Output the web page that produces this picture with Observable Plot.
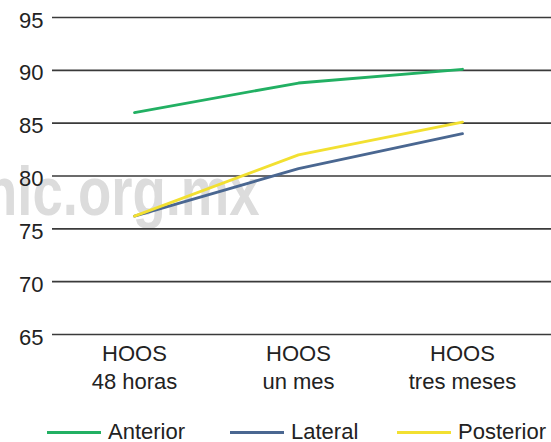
<!DOCTYPE html>
<html>
<head>
<meta charset="utf-8">
<script src="https://cdn.jsdelivr.net/npm/d3@7"></script>
<script src="https://cdn.jsdelivr.net/npm/@observablehq/plot@0.6"></script>
<style>
  html, body { margin: 0; padding: 0; background: #fff; }
  #wrap { position: relative; width: 551px; height: 442px; overflow: hidden; font-family: "Liberation Sans", Arial, sans-serif; }
  #wm { position: absolute; left: -16px; top: 157px; font-family: "Liberation Sans", Arial, sans-serif; font-weight: bold; font-size: 69px; color: #dcdcdc; transform: scaleX(0.79); transform-origin: 0 0; white-space: nowrap; z-index: 0; line-height: 1; }
  #chart { position: absolute; left: 0; top: 0; z-index: 1; }
  #chart svg text { font-family: "Liberation Sans", Arial, sans-serif; }
  #legend { position: absolute; left: 0; top: 420px; width: 551px; height: 24px; font-size: 22px; color: #222; z-index: 1; }
  .item { position: absolute; top: 0; display: flex; align-items: center; gap: 7px; line-height: 24px; height: 24px; white-space: nowrap; }
  .sw { width: 54px; height: 3px; }
</style>
</head>
<body>
<div id="wrap">
  <div id="wm">hic.org.mx</div>
  <div id="chart"></div>
  <div id="legend"></div>
</div>
<script>
const periods = ["48 horas", "un mes", "tres meses"];
const tickPrefix = "HOOS";
const seriesNames = ["Anterior", "Lateral", "Posterior"];
const anterior = [86.0, 88.8, 90.1];
const lateral = [76.2, 80.7, 84.0];
const posterior = [76.2, 82.0, 85.1];
const seriesColors = ["#22b063", "#4a6791", "#f2e031"];
const yTicks = [65, 70, 75, 80, 85, 90, 95];

const valuesBySeries = [anterior, lateral, posterior];
const data = [];
seriesNames.forEach((s, i) => periods.forEach((p, j) => data.push({series: s, period: p, value: valuesBySeries[i][j]})));

const chart = Plot.plot({
  width: 551,
  height: 400,
  marginTop: 17,
  marginBottom: 66,
  marginLeft: 52,
  marginRight: 0,
  style: {fontSize: "22px", color: "#222", background: "transparent", overflow: "visible"},
  x: {type: "point", domain: periods, range: [134, 462], padding: 0},
  y: {domain: [65, 95]},
  color: {domain: seriesNames, range: seriesColors},
  marks: [
    Plot.ruleY(yTicks, {stroke: "#3a3a3a", strokeWidth: 1.6}),
    Plot.axisY({ticks: yTicks, tickSize: 0, tickPadding: 9, label: null, fontSize: 22, dy: 3}),
    Plot.axisX({tickSize: 0, tickPadding: 6, label: null, fontSize: 22, lineHeight: 1.3, tickFormat: d => tickPrefix + "\n" + d}),
    Plot.line(data, {x: "period", y: "value", z: "series", stroke: "series", strokeWidth: 2.8})
  ]
});
document.getElementById("chart").appendChild(chart);

const legendLeft = [47, 230, 397];
const legend = document.getElementById("legend");
seriesNames.forEach((s, i) => {
  const item = document.createElement("div");
  item.className = "item";
  item.style.left = legendLeft[i] + "px";
  const sw = document.createElement("div");
  sw.className = "sw";
  sw.style.background = seriesColors[i];
  const t = document.createElement("span");
  t.textContent = s;
  item.appendChild(sw);
  item.appendChild(t);
  legend.appendChild(item);
});
</script>
</body>
</html>
